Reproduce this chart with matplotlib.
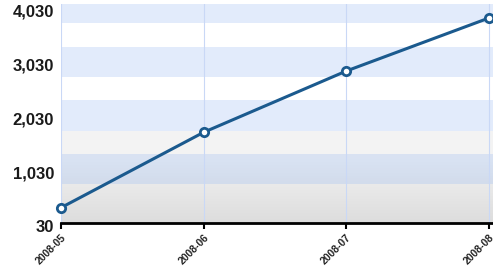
import matplotlib.pyplot as plt
import matplotlib.transforms as mtransforms
import numpy as np

months = ['2008-05', '2008-06', '2008-07', '2008-08']
values = [315, 1717, 2857, 3843]
yticks = [30, 1030, 2030, 3030, 4030]
ytick_labels = ['30', '1,030', '2,030', '3,030', '4,030']

line_color = '#1b5a8e'

plt.rcParams['font.family'] = ['Liberation Sans', 'DejaVu Sans']

fig = plt.figure(figsize=(4.93, 2.74), dpi=100)
ax = fig.add_axes([61 / 493, 1 - 223 / 274, 1 - 61 / 493, 219 / 274])

x = list(range(len(months)))
ax.set_xlim(0, 3.028)
ax.set_ylim(30, 4103)

# background: white on top, fading to grey near the bottom
frac = np.linspace(0, 1, 300)  # 0 = bottom, 1 = top
grey = 0.865 + (0.955 - 0.865) * (frac / 0.30)
grey = np.where(frac > 0.30, 0.955, grey)
grey = np.where(frac > 0.42, 1.0, grey)
img = np.stack([grey, grey, grey], axis=-1).reshape(300, 1, 3)
ax.imshow(img, extent=[0, 1, 0, 1], transform=ax.transAxes, origin='lower',
          aspect='auto', zorder=0, interpolation='nearest')

# blue bands round each tick value
for t in yticks[1:]:
    ax.axhspan(t - 280, t + 280, color=(0.55, 0.7, 0.95), alpha=0.25, lw=0, zorder=1)

for xi in x:
    ax.axvline(xi, color='#c9d8f6', lw=0.8, zorder=2)

ax.plot(x, values, color=line_color, lw=2.2, marker='o', markersize=6,
        markerfacecolor='white', markeredgecolor=line_color, markeredgewidth=2,
        zorder=5, clip_on=False)

ax.set_xticks(x)
ax.set_xticklabels(months, rotation=45, ha='right', rotation_mode='anchor',
                   fontsize=7.5, fontweight='bold', color='#222222')
ax.set_yticks(yticks)
ax.set_yticklabels(ytick_labels, fontsize=12, fontweight='bold', color='#1a1a1a')

ax.tick_params(axis='x', length=4, width=1.5, color='black', pad=3)
ax.tick_params(axis='y', length=0, pad=5)

offset = mtransforms.ScaledTranslation(0, -3 / 100, fig.dpi_scale_trans)
for lab in ax.get_yticklabels():
    lab.set_transform(lab.get_transform() + offset)

for s in ['top', 'right', 'left']:
    ax.spines[s].set_visible(False)
ax.spines['bottom'].set_color('black')
ax.spines['bottom'].set_linewidth(2)
ax.spines['bottom'].set_zorder(6)

plt.savefig('out.png', dpi=100)
